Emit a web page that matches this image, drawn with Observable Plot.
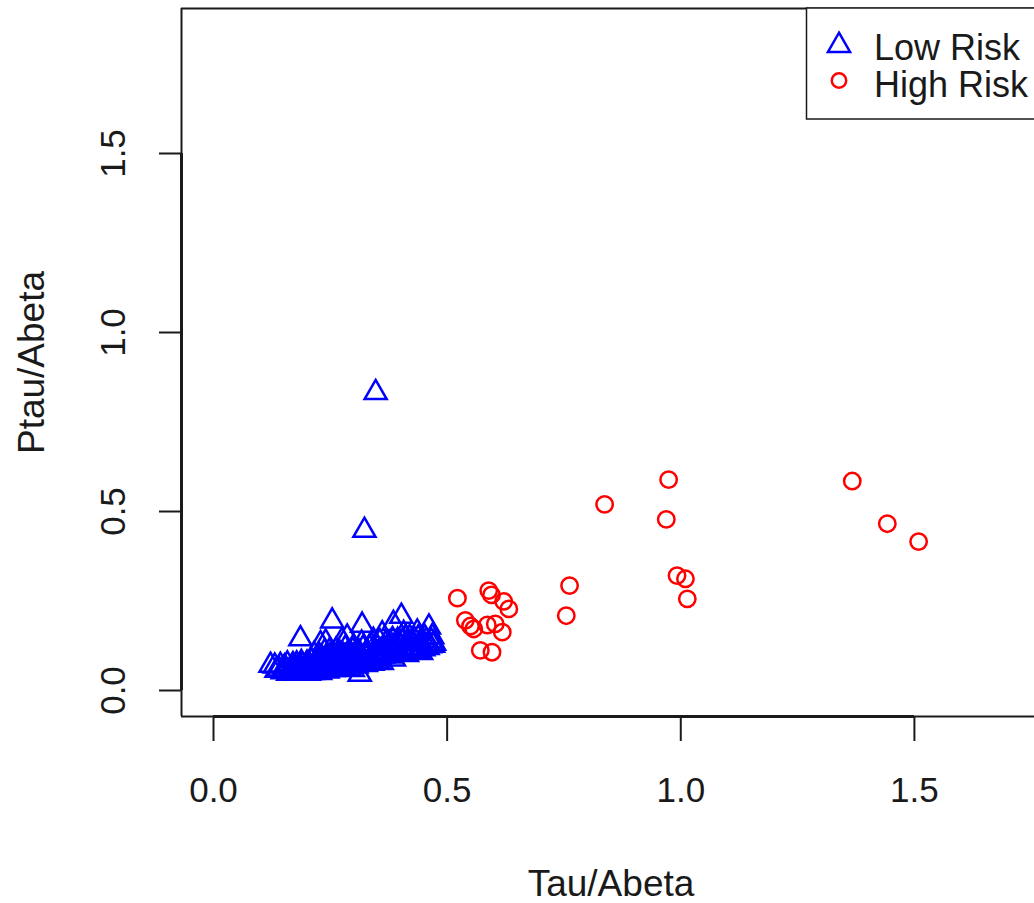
<!DOCTYPE html>
<html>
<head>
<meta charset="utf-8">
<script src="https://cdn.jsdelivr.net/npm/d3@7"></script>
<script src="https://cdn.jsdelivr.net/npm/@observablehq/plot@0.6"></script>
<style>
  html, body { margin: 0; padding: 0; background: #fff; overflow: hidden; }
  #wrap { position: relative; width: 1034px; height: 903px; overflow: hidden; }
  #wrap svg { display: block; }
  #legend { position: absolute; left: 0; top: 0; pointer-events: none; }
</style>
</head>
<body>
<div id="wrap"></div>
<script>
// Low-risk group: Tau/Abeta and Ptau/Abeta ratios
const lowTau = [0.122,0.131,0.140,0.148,0.152,0.160,0.165,0.170,0.176,0.180,0.186,0.188,0.192,0.198,0.204,0.210,0.215,0.222,0.228,0.232,0.240,0.246,0.250,0.254,0.258,0.263,0.270,0.275,0.280,0.286,0.292,0.298,0.304,0.310,0.313,0.318,0.322,0.323,0.328,0.334,0.340,0.347,0.348,0.355,0.361,0.366,0.372,0.378,0.385,0.388,0.394,0.400,0.402,0.407,0.412,0.418,0.424,0.430,0.436,0.440,0.446,0.452,0.458,0.461,0.466,0.470,0.229,0.240,0.286,
  0.135,0.143,0.155,0.158,0.163,0.168,0.173,0.178,0.183,0.185,0.190,0.195,0.200,0.202,0.207,0.212,0.218,0.220,0.225,0.226,0.234,0.236,0.243,0.244,0.248,0.253,0.256,0.260,0.266,0.268,0.273,0.278,0.283,0.288,0.290,0.295,0.300,0.306,0.308,0.315,0.320,0.326,0.331,0.336,0.338,0.344,0.350,0.352,0.358,0.363,0.368,0.370,0.375,0.380,0.383,0.390,0.392,0.397,0.404,0.405,0.410,0.415,0.420,0.427,0.432,0.438,0.443,0.449,0.455,0.463,0.468,0.472,
  0.215,0.238,0.262,0.282,0.300,0.317,0.342,0.356,0.298,0.270,0.248,0.226,0.333,0.360,0.386,0.414,0.444];
const lowPtau = [0.070,0.068,0.060,0.052,0.066,0.048,0.060,0.072,0.050,0.064,0.144,0.078,0.055,0.068,0.048,0.082,0.060,0.072,0.050,0.090,0.066,0.080,0.098,0.194,0.058,0.074,0.088,0.140,0.064,0.100,0.078,0.058,0.092,0.110,0.045,0.182,0.082,0.447,0.098,0.120,0.076,0.832,0.106,0.090,0.158,0.118,0.100,0.132,0.187,0.112,0.140,0.120,0.207,0.159,0.105,0.132,0.118,0.142,0.163,0.112,0.128,0.148,0.120,0.177,0.138,0.126,0.130,0.135,0.149,
  0.056,0.070,0.058,0.074,0.052,0.066,0.058,0.074,0.052,0.066,0.070,0.060,0.076,0.058,0.068,0.050,0.078,0.062,0.086,0.066,0.058,0.076,0.088,0.054,0.070,0.082,0.064,0.092,0.060,0.080,0.070,0.096,0.074,0.084,0.062,0.098,0.074,0.068,0.100,0.086,0.118,0.072,0.104,0.090,0.126,0.098,0.120,0.082,0.110,0.096,0.130,0.108,0.118,0.096,0.142,0.126,0.104,0.130,0.136,0.112,0.146,0.120,0.148,0.130,0.118,0.146,0.134,0.116,0.140,0.125,0.150,0.132,
  0.100,0.108,0.112,0.118,0.122,0.132,0.140,0.136,0.112,0.104,0.110,0.098,0.082,0.078,0.088,0.100,0.106];

// High-risk group
const highTau = [0.522,0.589,0.595,0.621,0.632,0.539,0.550,0.557,0.586,0.603,0.618,0.571,0.596,0.755,0.762,0.837,0.969,0.974,0.992,1.010,1.014,1.367,1.442,1.509];
const highPtau = [0.258,0.279,0.267,0.249,0.228,0.196,0.180,0.172,0.183,0.186,0.163,0.112,0.107,0.209,0.293,0.520,0.478,0.589,0.321,0.312,0.256,0.585,0.466,0.416];

const xTicks = [0, 0.5, 1.0, 1.5];
const yTicks = [0, 0.5, 1.0, 1.5];
const groupNames = ["Low Risk", "High Risk"];
const groupColors = ["blue", "red"];
const groupSymbols = ["triangle", "circle"];
const xTitle = "Tau/Abeta";
const yTitle = "Ptau/Abeta";

const low = lowTau.map((t, i) => ({tau: t, ptau: lowPtau[i]}));
const high = highTau.map((t, i) => ({tau: t, ptau: highPtau[i]}));

const xDomain = [-0.0685, 1.757];
const yDomain = [-0.0726, 1.905];
const font = "'Liberation Sans', Arial, Helvetica, sans-serif";
const ink = "#1a1a1a";
const fmt = d3.format(".1f");
const R = 8.2;
const SW = 2.5;

const chart = Plot.plot({
  width: 1034,
  height: 903,
  marginLeft: 181,
  marginRight: 0,
  marginTop: 8,
  marginBottom: 187,
  style: {fontFamily: font, color: ink, background: "#fff"},
  x: {domain: xDomain},
  y: {domain: yDomain},
  marks: [
    // plot box (left, bottom, top; the right side lies past the page edge)
    Plot.ruleX([xDomain[0]], {stroke: ink, strokeWidth: 2}),
    Plot.ruleY([yDomain[0], yDomain[1]], {stroke: ink, strokeWidth: 2}),
    // axis lines spanning the tick range
    Plot.ruleY([yDomain[0]], {x1: xTicks[0], x2: xTicks[xTicks.length - 1], stroke: ink, strokeWidth: 3}),
    Plot.ruleX([xDomain[0]], {y1: yTicks[0], y2: yTicks[yTicks.length - 1], stroke: ink, strokeWidth: 3}),
    Plot.axisX({ticks: xTicks, tickSize: 25, tickPadding: 36, tickFormat: fmt, fontSize: 35, stroke: ink, strokeWidth: 2, label: null}),
    Plot.axisY({ticks: yTicks, tickSize: 22, tickFormat: () => "", stroke: ink, strokeWidth: 2, label: null}),
    Plot.text(yTicks, {y: d => d, text: d => fmt(d), frameAnchor: "left", dx: -57, rotate: -90,
      textAnchor: "middle", lineAnchor: "bottom", fontSize: 35, fill: ink}),
    Plot.text([xTitle], {text: d => d, frameAnchor: "bottom", dx: 3, dy: 179, lineAnchor: "bottom", fontSize: 37, fill: ink}),
    Plot.text([yTitle], {text: d => d, frameAnchor: "left", dx: -138, rotate: -90,
      textAnchor: "middle", lineAnchor: "bottom", fontSize: 37, fill: ink}),
    Plot.dot(low, {x: "tau", y: "ptau", symbol: groupSymbols[0], r: R, stroke: groupColors[0], strokeWidth: SW, fill: "none"}),
    Plot.dot(high, {x: "tau", y: "ptau", symbol: groupSymbols[1], r: R, stroke: groupColors[1], strokeWidth: SW, fill: "none"})
  ]
});

const wrap = document.getElementById("wrap");
wrap.appendChild(chart);

// Legend box in the top-right corner of the plot region
const lg = d3.select(wrap).append("svg")
  .attr("id", "legend")
  .attr("width", 1034).attr("height", 903)
  .style("font-family", font);
lg.append("rect")
  .attr("x", 806.5).attr("y", 8).attr("width", 320).attr("height", 111)
  .attr("fill", "#fff").attr("stroke", ink).attr("stroke-width", 1.5);
const symbolTypes = {triangle: d3.symbolTriangle, circle: d3.symbolCircle};
const rowY = [45.5, 80.5];
const baseY = [60, 97];
groupNames.forEach((name, i) => {
  lg.append("path")
    .attr("transform", `translate(839,${rowY[i]})`)
    .attr("d", d3.symbol(symbolTypes[groupSymbols[i]], Math.PI * (i === 0 ? R * R : 7.2 * 7.2))())
    .attr("fill", "none").attr("stroke", groupColors[i]).attr("stroke-width", SW);
  lg.append("text")
    .attr("x", 874).attr("y", baseY[i])
    .attr("font-size", 36).attr("fill", ink)
    .text(name);
});
</script>
</body>
</html>
